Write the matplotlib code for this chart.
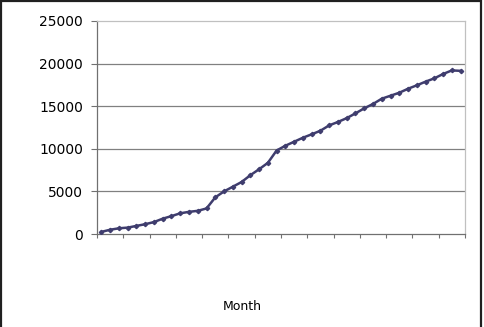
import matplotlib
matplotlib.use("Agg")
import matplotlib.pyplot as plt
from matplotlib.patches import Rectangle

months = list(range(1, 43))
values = [250, 500, 670, 750, 950, 1150, 1400, 1800, 2100, 2430,
          2600, 2720, 3000, 4300, 5000, 5550, 6100, 6900, 7600, 8350,
          9800, 10360, 10830, 11300, 11700, 12120, 12750, 13150, 13600, 14160,
          14750, 15260, 15880, 16230, 16580, 17050, 17450, 17880, 18270, 18780,
          19200, 19150]
y_ticks = [0, 5000, 10000, 15000, 20000, 25000]
x_label = "Month"

plt.rcParams['font.family'] = ['DejaVu Sans']
fig = plt.figure(figsize=(4.84, 3.27), dpi=100)
W, H = 484, 327
ax = fig.add_axes([97 / W, 1 - 234 / H, (465 - 97) / W, (234 - 21) / H])

n = len(months)
xs = [i + 0.5 for i in range(n)]
ax.plot(xs, values, color='#3f3d6e', lw=1.8, marker='D', ms=2.2,
        mec='#3f3d6e', mfc='#3f3d6e', zorder=3)

ax.set_xlim(0, n)
ax.set_ylim(0, 25000)
ax.set_yticks(y_ticks)
ax.set_yticklabels([str(v) for v in y_ticks], fontsize=10)
ax.set_xticks(range(0, n + 1, 3))
ax.set_xticklabels([])
ax.tick_params(axis='y', direction='out', length=4, width=0.8, color='#707070', pad=6)
ax.tick_params(axis='x', direction='out', length=3, width=0.8, color='#707070')
for v in y_ticks[1:-1]:
    ax.axhline(v, color='#808080', lw=0.9, zorder=1)
ax.spines['top'].set_color('#c0c0c0')
ax.spines['right'].set_color('#c0c0c0')
ax.spines['left'].set_color('#707070')
ax.spines['bottom'].set_color('#707070')
for s in ax.spines.values():
    s.set_linewidth(0.9)

fig.text(242 / W, 1 - 307 / H, x_label, ha='center', va='center', fontsize=9)

fig.patches.append(Rectangle((0.5 / W, -0.01), (481 - 0.5) / W, 1.0 + 0.01 - 1.0 / H,
                             transform=fig.transFigure, fill=False,
                             edgecolor='#202020', lw=1.6))
fig.savefig("out.png", dpi=100)
